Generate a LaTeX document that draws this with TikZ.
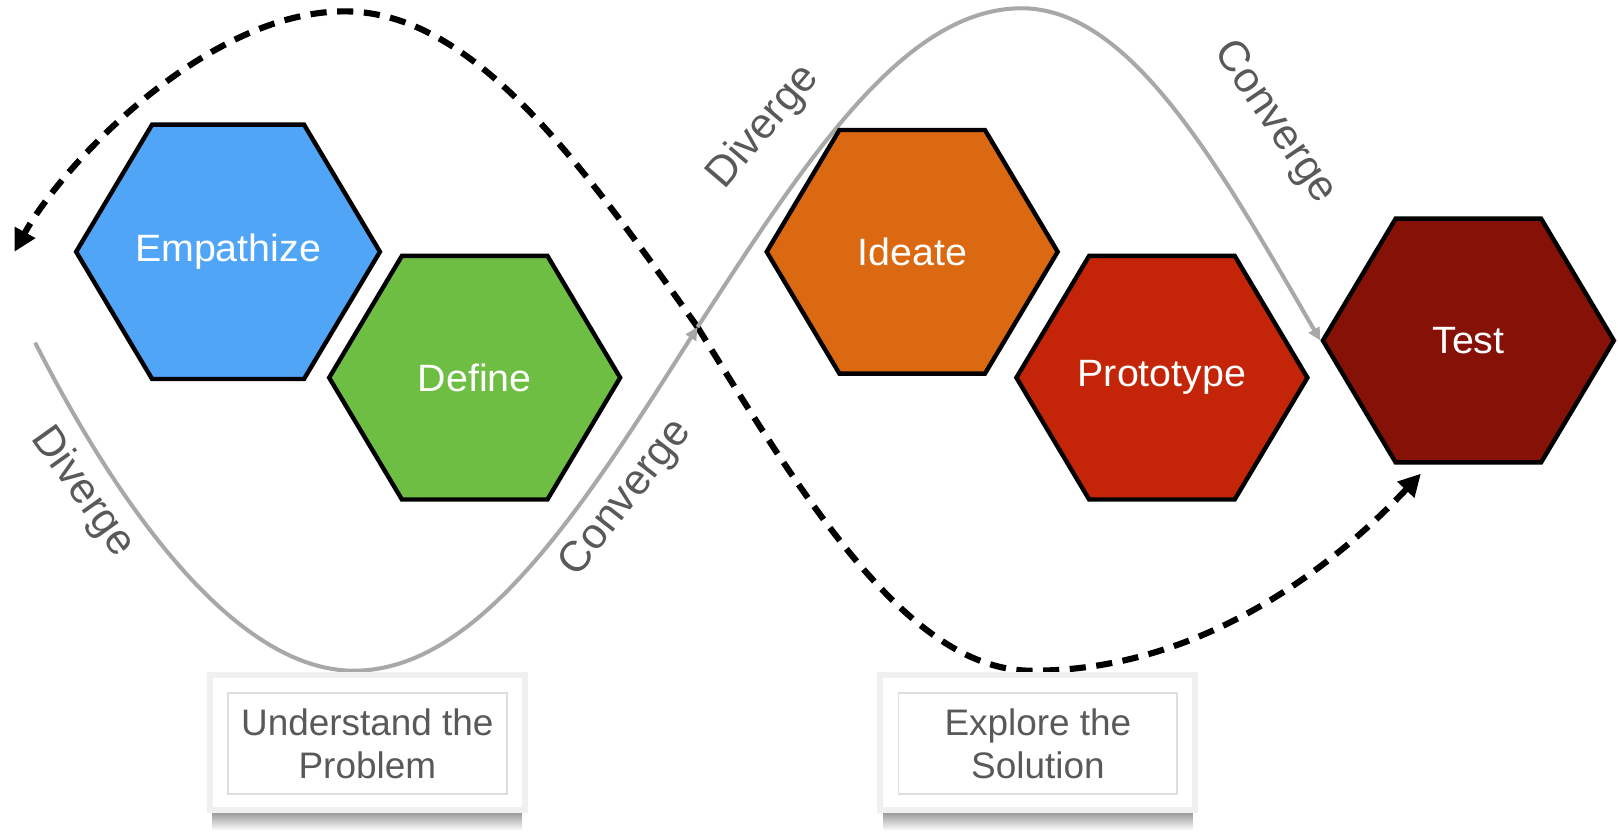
\documentclass[tikz,border=0pt]{standalone}
\usepackage{fontspec}
\setmainfont{Liberation Sans}
\usetikzlibrary{shapes.geometric,arrows.meta,backgrounds}

\definecolor{empblue}{HTML}{51A5F7}
\definecolor{defgreen}{HTML}{6FBE44}
\definecolor{ideorange}{HTML}{DB6912}
\definecolor{protred}{HTML}{C42508}
\definecolor{testred}{HTML}{861106}
\definecolor{curvegray}{HTML}{A6A9A7}
\definecolor{labelgray}{HTML}{595959}

\def\px{0.010319cm}

\tikzset{
  hexa/.style={regular polygon, regular polygon sides=6, minimum size=282*\px,
    yscale=0.967, transform shape,
    draw=black, line width=1.25pt, text=white, inner sep=0pt,
    font=\fontsize{11.2}{13}\selectfont},
  phase/.style={text=labelgray, inner sep=0pt, font=\fontsize{12.2}{14}\selectfont},
  graypath/.style={curvegray, line width=1.15pt, -{Triangle[length=3.6pt,width=3.4pt]}},
  dashloop/.style={black, line width=1.75pt, dash pattern=on 4.6pt off 3pt,
    -{Triangle[length=6.3pt,width=6.3pt]}},
  stagebox/.style={draw=black!13, line width=0.5pt, text=labelgray, align=center,
    minimum width=270*\px, minimum height=98*\px, font=\fontsize{10.5}{12.3}\selectfont}
}

\begin{document}
\begin{tikzpicture}[x=\px, y=-\px]
  \useasboundingbox (0,0) rectangle (1568,806);

  % the five stages
  \node[hexa, fill=empblue]   (emp)   at (221,244)  {Empathize};
  \node[hexa, fill=defgreen]  (def)   at (460,366)  {Define};
  \node[hexa, fill=ideorange] (ide)   at (884,244)  {Ideate};
  \node[hexa, fill=protred]   (proto) at (1126,366) {Prototype};
  \node[hexa, fill=testred]   (test)  at (1423,330) {Test};

  % points on the curves
  \coordinate (cross)  at (676,317);
  \coordinate (gstart) at (34,332);
  \coordinate (gbot)   at (343,650);
  \coordinate (gtop)   at (990,8);
  \coordinate (dleft)  at (14,244);
  \coordinate (dtop)   at (334,11);
  \coordinate (dbot)   at (1000,650);
  \coordinate (dright) at (1377,459);

  \begin{scope}[on background layer]
    % dashed loop
    \draw[dashloop] (cross) .. controls +(-114,-161) and +(124,0) .. (dtop)
      .. controls +(-134,0) and +(46,-84) .. (dleft);
    \draw[dashloop] (cross) .. controls +(108,175) and +(-117,0) .. (dbot)
      .. controls +(170,0) and +(-78,83) .. (dright);
    % diverge / converge curve
    \draw[graypath] (gstart) .. controls +(85,167) and +(-112,0) .. (gbot)
      .. controls +(121,0) and +(-111,175) .. (cross);
    \draw[graypath] (cross) .. controls +(105,-162) and +(-114,0) .. (gtop)
      .. controls +(106,0) and +(-98,-169) .. (test.west);
  \end{scope}

  \node[phase, rotate=-54.5] (div1) at (80,477)   {Diverge};
  \node[phase, rotate=52]    (con1) at (607,483)  {Converge};
  \node[phase, rotate=49.5]  (div2) at (740,123)  {Diverge};
  \node[phase, rotate=-55.7] (con2) at (1235,119) {Converge};

  % the two cards
  \shade[top color=black!45, bottom color=white] (206,785) rectangle (506,805);
  \draw[black!6, line width=1.6pt, fill=white] (203.5,654) rectangle (508.8,785);
  \node[stagebox] (understand) at (356,720.5) {Understand the\\Problem};

  \shade[top color=black!45, bottom color=white] (856,785) rectangle (1156,805);
  \draw[black!6, line width=1.6pt, fill=white] (852.8,654) rectangle (1158,785);
  \node[stagebox] (explore) at (1005.8,720.5) {Explore the\\Solution};
\end{tikzpicture}
\end{document}
